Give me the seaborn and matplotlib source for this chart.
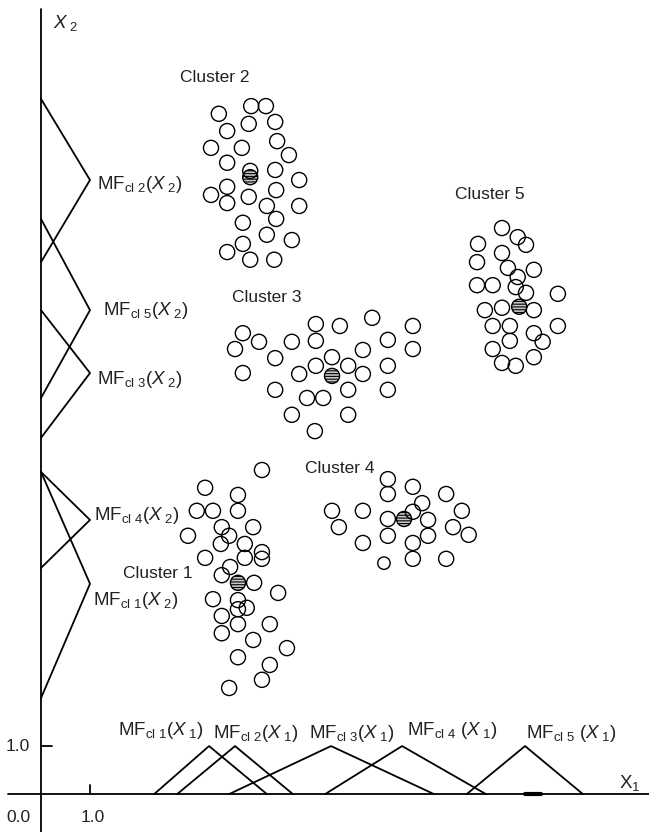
import pandas as pd
import matplotlib
matplotlib.use("Agg")
import matplotlib.pyplot as plt
import seaborn as sns

# -----------------------------
# Cluster members (X1, X2)
# -----------------------------
c1_x = [4.51, 3.35, 4.02, 3.18, 3.51, 4.02, 3.69, 4.33, 3.84, 3.67, 4.16, 4.51, 3.00, 3.35, 4.16, 4.51, 3.86,
        3.69, 4.35, 3.51, 4.02, 4.20, 4.02, 4.84, 3.69, 3.69, 4.02, 4.67, 4.33, 5.02, 4.02, 4.67, 4.51, 3.84]
c1_y = [6.75, 6.38, 6.23, 5.90, 5.90, 5.90, 5.56, 5.56, 5.38, 5.21, 5.21, 5.04, 5.38, 4.92, 4.92, 4.90, 4.73,
        4.56, 4.40, 4.06, 4.04, 3.88, 3.85, 4.19, 3.71, 3.35, 3.54, 3.54, 3.21, 3.04, 2.85, 2.69, 2.38, 2.21]

c2_x = [4.29, 4.59, 3.63, 4.24, 4.78, 3.80, 4.82, 3.47, 4.10, 5.06, 3.80, 4.78, 4.27, 5.27, 3.80, 4.80, 3.47,
        3.80, 4.24, 4.61, 5.27, 4.80, 4.12, 4.61, 5.12, 4.12, 3.80, 4.27, 4.76]
c2_y = [14.33, 14.33, 14.17, 13.96, 14.00, 13.81, 13.60, 13.46, 13.46, 13.31, 13.15, 13.00, 12.98, 12.79, 12.65,
        12.58, 12.48, 12.31, 12.44, 12.25, 12.25, 11.98, 11.90, 11.65, 11.54, 11.46, 11.29, 11.13, 11.13]

c3_x = [6.76, 5.61, 6.10, 7.59, 4.12, 4.45, 5.12, 5.61, 7.08, 3.96, 6.57, 7.59, 4.78, 5.94, 5.61, 6.27, 7.08,
        4.12, 5.27, 6.57, 4.78, 6.27, 7.08, 5.43, 5.76, 5.12, 6.27, 5.59]
c3_y = [9.92, 9.79, 9.75, 9.75, 9.60, 9.42, 9.42, 9.44, 9.46, 9.27, 9.25, 9.27, 9.08, 9.10, 8.92, 8.92, 8.92,
        8.77, 8.75, 8.75, 8.42, 8.42, 8.42, 8.25, 8.25, 7.90, 7.90, 7.56]

c4_x = [7.08, 7.59, 7.08, 8.27, 7.78, 5.94, 6.57, 8.59, 7.59, 7.08, 7.90, 6.08, 8.41, 8.73, 7.90, 7.08, 6.57,
        7.59, 7.59, 8.27]
c4_y = [6.56, 6.40, 6.25, 6.25, 6.06, 5.90, 5.90, 5.90, 5.88, 5.73, 5.71, 5.56, 5.56, 5.40, 5.38, 5.38, 5.23,
        5.23, 4.90, 4.90]
c4_small_x = [7.00]
c4_small_y = [4.81]

c5_x = [9.41, 9.73, 9.90, 8.92, 9.41, 8.90, 9.53, 9.73, 10.06, 8.90, 9.22, 9.69, 9.90, 10.55, 9.06, 9.41, 10.06,
        9.22, 9.57, 10.55, 9.57, 10.06, 10.24, 9.22, 9.41, 9.69, 10.06]
c5_y = [11.79, 11.60, 11.44, 11.46, 11.27, 11.08, 10.96, 10.77, 10.92, 10.60, 10.60, 10.56, 10.44, 10.42, 10.08,
        10.13, 10.08, 9.75, 9.75, 9.75, 9.44, 9.60, 9.42, 9.27, 8.98, 8.92, 9.10]

# cluster centres (hatched), cluster 1..5
centre_x = [4.02, 4.27, 5.94, 7.41, 9.76]
centre_y = [4.40, 12.85, 8.71, 5.73, 10.15]

# -----------------------------
# Triangular membership functions, cluster 1..5
# -----------------------------
mf1_left = [2.31, 2.78, 3.84, 5.80, 8.69]
mf1_peak = [3.43, 3.96, 5.92, 7.37, 9.88]
mf1_right = [4.61, 5.14, 8.02, 9.08, 11.06]

mf2_top = [6.71, 14.48, 10.08, 6.71, 11.98]
mf2_peak = [4.38, 12.79, 8.77, 5.71, 10.08]
mf2_bottom = [2.00, 11.08, 7.42, 4.71, 8.25]

cluster_names = ["Cluster 1", "Cluster 2", "Cluster 3", "Cluster 4", "Cluster 5"]
name_x = [1.67, 2.84, 3.90, 5.39, 8.45]
name_y = [4.60, 14.92, 10.35, 6.79, 12.48]

mf1_labels = [r"MF$_{\rm cl\ 1}$($X_{\ 1}$)", r"MF$_{\rm cl\ 2}$($X_{\ 1}$)", r"MF$_{\rm cl\ 3}$($X_{\ 1}$)",
              r"MF$_{\rm cl\ 4}$ ($X_{\ 1}$)", r"MF$_{\rm cl\ 5}$ ($X_{\ 1}$)"]
mf1_lab_x = [1.57, 3.51, 5.47, 7.47, 9.90]
mf1_lab_y = [1.33, 1.27, 1.27, 1.33, 1.27]

mf2_labels = [r"MF$_{\rm cl\ 1}$($X_{\ 2}$)", r"MF$_{\rm cl\ 2}$($X_{\ 2}$)", r"MF$_{\rm cl\ 3}$($X_{\ 2}$)",
              r"MF$_{\rm cl\ 4}$($X_{\ 2}$)", r"MF$_{\rm cl\ 5}$($X_{\ 2}$)"]
mf2_lab_x = [1.06, 1.14, 1.14, 1.08, 1.27]
mf2_lab_y = [4.04, 12.69, 8.63, 5.81, 10.08]

sns.set_theme(style="white")
plt.rcParams["font.family"] = ["Liberation Sans", "DejaVu Sans"]
plt.rcParams["mathtext.fontset"] = "custom"
plt.rcParams["mathtext.rm"] = "Liberation Sans"
plt.rcParams["mathtext.it"] = "Liberation Sans:italic"
plt.rcParams["hatch.linewidth"] = 0.8

fig = plt.figure(figsize=(6.49, 8.32), dpi=100)
ax = fig.add_axes([0, 0, 1, 1])
ax.set_xlim(-0.837, 12.41)
ax.set_ylim(-0.79, 16.54)
ax.set_axis_off()

# axes of the diagram
ax.plot([0, 0], [-0.79, 16.35], color="black", lw=1.3)
ax.plot([-0.67, 12.41], [0, 0], color="black", lw=1.3)
ax.plot([1.0, 1.0], [0, 0.19], color="black", lw=1.3)
ax.plot([0, 0.22], [1.0, 1.0], color="black", lw=1.3)
ax.plot([9.88, 10.20], [0, 0], color="black", lw=3)

# membership functions
rows = []
for i in range(5):
    rows += [dict(mf=i, x=mf1_left[i], mu=0.0), dict(mf=i, x=mf1_peak[i], mu=1.0),
             dict(mf=i, x=mf1_right[i], mu=0.0)]
mf1 = pd.DataFrame(rows)
sns.lineplot(data=mf1, x="x", y="mu", units="mf", estimator=None, sort=False,
             color="black", lw=1.3, ax=ax)

rows = []
for i in range(5):
    rows += [dict(mf=i, x2=mf2_top[i], mu=0.0), dict(mf=i, x2=mf2_peak[i], mu=1.0),
             dict(mf=i, x2=mf2_bottom[i], mu=0.0)]
mf2 = pd.DataFrame(rows)
sns.lineplot(data=mf2, x="mu", y="x2", units="mf", estimator=None, sort=False,
             orient="y", color="black", lw=1.3, ax=ax)

# cluster centres
ax.scatter(centre_x, centre_y, s=118, facecolor="#c8c8c8", edgecolor="black",
           linewidth=1.0, hatch="------", zorder=3)

# cluster members
pts = pd.DataFrame({
    "x1": c1_x + c2_x + c3_x + c4_x + c5_x,
    "x2": c1_y + c2_y + c3_y + c4_y + c5_y,
})
sns.scatterplot(data=pts, x="x1", y="x2", s=118, facecolor="none", edgecolor="black",
                linewidth=1.0, ax=ax, zorder=4)
sns.scatterplot(x=c4_small_x, y=c4_small_y, s=80, facecolor="none", edgecolor="black",
                linewidth=1.0, ax=ax, zorder=4)

# texts
for name, x, y in zip(cluster_names, name_x, name_y):
    ax.text(x, y, name, fontsize=12.5, ha="left", va="center", color="#222222")
for lab, x, y in zip(mf1_labels, mf1_lab_x, mf1_lab_y):
    ax.text(x, y, lab, fontsize=13.5, ha="left", va="center", color="#222222")
for lab, x, y in zip(mf2_labels, mf2_lab_x, mf2_lab_y):
    ax.text(x, y, lab, fontsize=13.5, ha="left", va="center", color="#222222")

ax.text(-0.47, 1.0, "1.0", fontsize=12.5, ha="center", va="center", color="#222222")
ax.text(-0.47, -0.48, "0.0", fontsize=12.5, ha="center", va="center", color="#222222")
ax.text(1.06, -0.48, "1.0", fontsize=12.5, ha="center", va="center", color="#222222")
ax.text(12.02, 0.23, r"X$_{\rm 1}$", fontsize=13.5, ha="center", va="center", color="#222222")
ax.text(0.51, 16.06, r"$X_{\ 2}$", fontsize=13.5, ha="center", va="center", color="#222222")

plt.savefig("out.png", dpi=100)
